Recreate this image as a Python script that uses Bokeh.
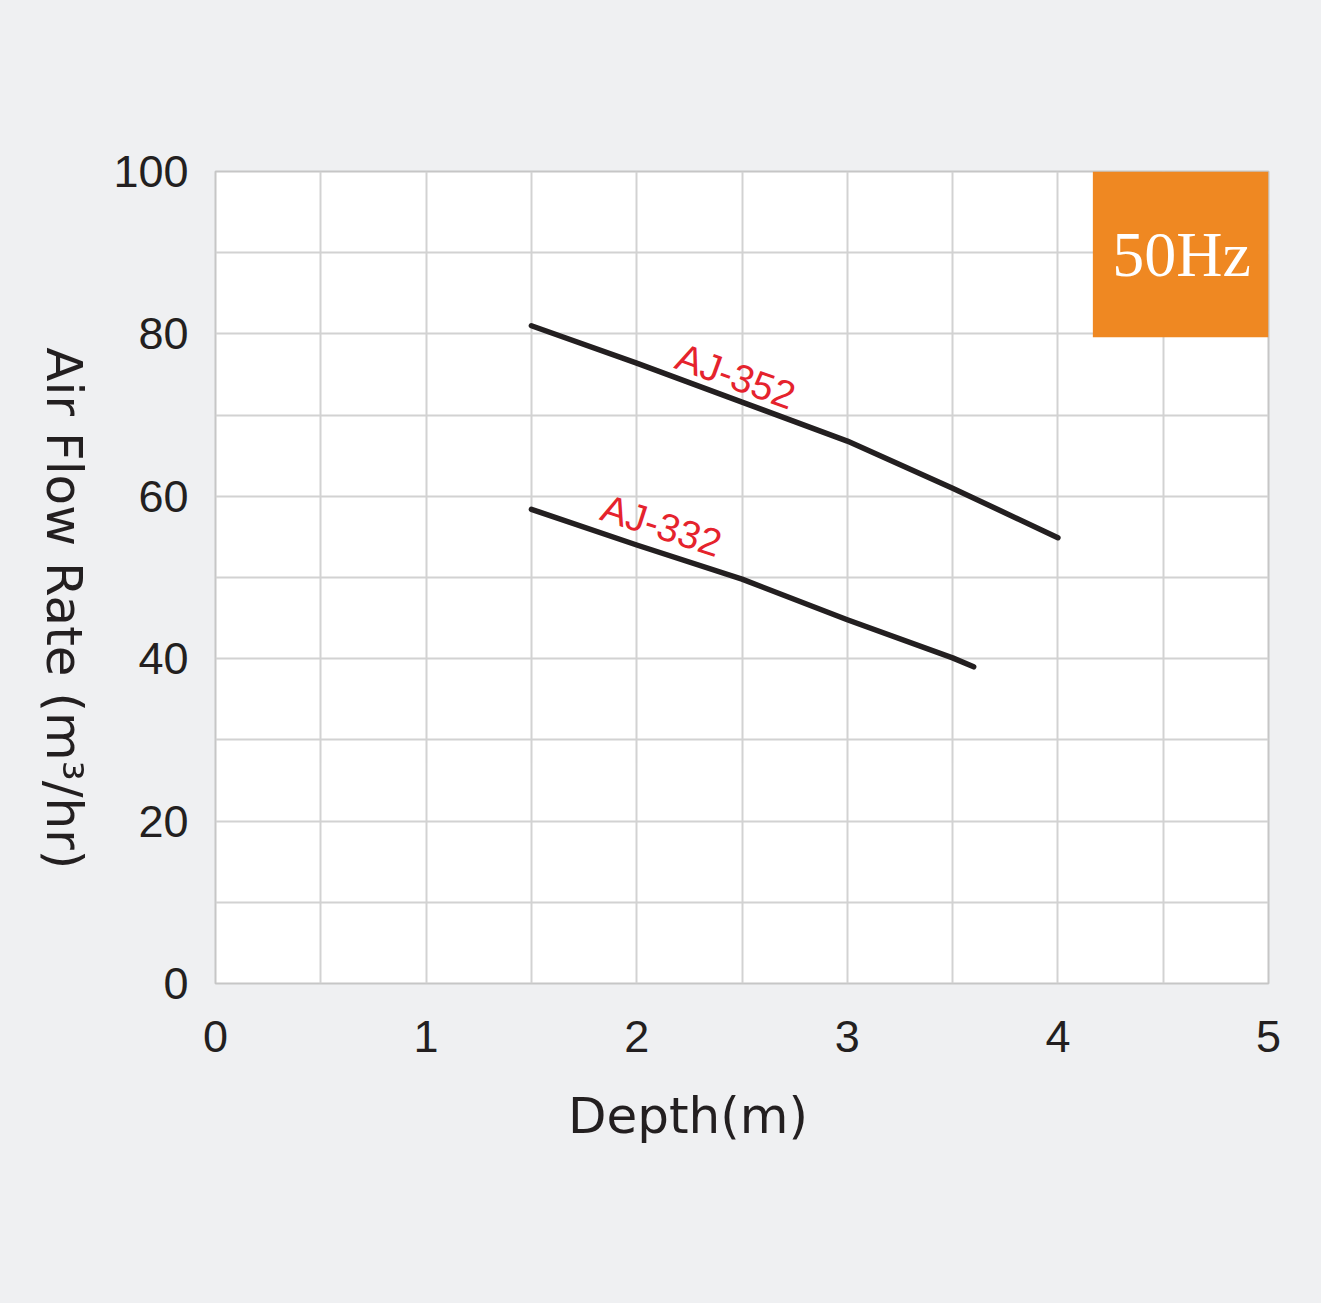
import math
from bokeh.plotting import figure
from bokeh.models import FixedTicker, Label, Range1d, BoxAnnotation
from bokeh.layouts import row, column
from bokeh.embed import file_html
from bokeh.resources import INLINE
from bokeh.core.properties import value

# ---- data ----
depth_352 = [1.5, 2.0, 2.5, 3.0, 3.5, 4.0]
flow_352 = [81.0, 76.4, 71.6, 66.8, 61.0, 54.9]
depth_332 = [1.5, 2.0, 2.5, 3.0, 3.5, 3.6]
flow_332 = [58.4, 54.0, 49.8, 44.8, 40.1, 39.0]
series_names = ["AJ-352", "AJ-332"]
x_ticks = [0, 1, 2, 3, 4, 5]
x_minor = [0.5, 1.5, 2.5, 3.5, 4.5]
y_ticks = [0, 20, 40, 60, 80, 100]
y_minor = [10, 30, 50, 70, 90]
badge_text = "50Hz"
x_title = "Depth(m)"
y_title = "Air Flow Rate (m\u00b3/hr)"

BG = "#eff0f2"
INK = "#231f20"
RED = "#e5232d"
ORANGE = "#ef8822"
W, H = 1321, 1303
LEFT_W = 110
TOP_H = 1080


def strip(width, height):
    f = figure(width=width, height=height, output_backend="svg", toolbar_location=None,
               x_range=Range1d(0, width), y_range=Range1d(0, height),
               x_axis_location=None, y_axis_location=None, min_border=0)
    f.background_fill_color = BG
    f.border_fill_color = BG
    f.outline_line_color = None
    f.grid.visible = False
    return f


# ---- narrow strip holding the rotated y-axis title ----
t = strip(LEFT_W, TOP_H)
t.text(x=[63], y=[TOP_H - 608 + 27], text=[y_title], angle=-math.pi / 2,
       text_align="center", text_baseline="middle", text_color=INK,
       text_font=value("DejaVu Sans"), text_font_size="50px")

# ---- bottom strip holding the x-axis title ----
b = strip(W, H - TOP_H)
b.text(x=[687.5], y=[(H - TOP_H) - (1115 - TOP_H)], text=[x_title],
       text_align="center", text_baseline="middle", text_color=INK,
       text_font=value("DejaVu Sans"), text_font_size="50px")

# ---- main chart ----
p = figure(width=W - LEFT_W, height=TOP_H, output_backend="svg", toolbar_location=None,
           x_range=Range1d(0, 5), y_range=Range1d(0, 100),
           min_border_left=215 - LEFT_W, min_border_right=W - 1268,
           min_border_top=171, min_border_bottom=TOP_H - 983)
p.background_fill_color = "white"
p.border_fill_color = BG
p.outline_line_color = "#c6c6c6"
p.outline_line_width = 2

p.xaxis.ticker = FixedTicker(ticks=x_ticks, minor_ticks=x_minor)
p.yaxis.ticker = FixedTicker(ticks=y_ticks, minor_ticks=y_minor)
for ax in (p.xaxis, p.yaxis):
    ax.axis_line_color = None
    ax.major_tick_line_color = None
    ax.minor_tick_line_color = None
    ax.major_tick_out = 0
    ax.major_tick_in = 0
    ax.minor_tick_out = 0
    ax.minor_tick_in = 0
    ax.major_label_text_font = "Liberation Sans"
    ax.major_label_text_font_size = "45px"
    ax.major_label_text_color = INK
p.xaxis.major_label_standoff = 37
p.yaxis.major_label_standoff = 27

for g in (p.xgrid, p.ygrid):
    g.grid_line_color = "#d2d2d2"
    g.grid_line_width = 2
    g.minor_grid_line_color = "#d2d2d2"
    g.minor_grid_line_width = 2

p.line(depth_352, flow_352, line_color=INK, line_width=5.5, line_cap="round", line_join="round")
p.line(depth_332, flow_332, line_color=INK, line_width=5.5, line_cap="round", line_join="round")

p.add_layout(Label(x=2.47, y=74.8, text=series_names[0], angle=-20 * math.pi / 180,
                   text_align="center", text_baseline="middle", text_color=RED,
                   text_font="Liberation Sans", text_font_size="39px"))
p.add_layout(Label(x=2.118, y=56.4, text=series_names[1], angle=-18 * math.pi / 180,
                   text_align="center", text_baseline="middle", text_color=RED,
                   text_font="Liberation Sans", text_font_size="39px"))

p.add_layout(BoxAnnotation(left=4.166, right=5, bottom=79.6, top=100,
                           fill_color=ORANGE, fill_alpha=1, line_color=None))
p.add_layout(Label(x=4.587, y=89.8, text=badge_text, text_align="center", text_baseline="middle",
                   text_color="white", text_font="Liberation Serif", text_font_size="64px"))

layout = column(row(t, p), b)

html = file_html(layout, INLINE, title="Air Flow Rate")
i = html.rfind("<body>")
if i >= 0:
    html = html[:i] + '<body style="background-color:%s;">' % BG + html[i + 6:]
open("out.html", "w").write(html)
